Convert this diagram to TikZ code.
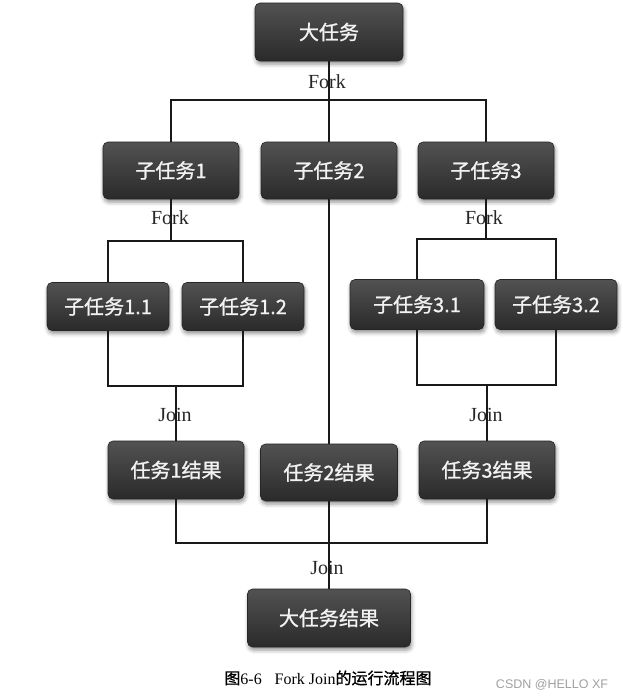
\documentclass[tikz,border=0pt]{standalone}
\usepackage{fontspec}
\setmainfont{Liberation Serif}
\newfontfamily\cjk{Noto Sans CJK SC}
\newfontfamily\cjkb[FakeBold=1.1]{Noto Sans CJK SC}
\newfontfamily\wmfont{Liberation Sans}
\usetikzlibrary{shadows.blur}
\definecolor{boxtop}{HTML}{525252}
\definecolor{boxbot}{HTML}{2A2A2A}
\definecolor{wmgray}{HTML}{A0A0A0}
\tikzset{
  box/.style={rounded corners=5pt, draw=black!85, line width=0.6pt,
    top color=boxtop, bottom color=boxbot, text=white!95!black,
    font=\cjkb\fontsize{20}{20}\selectfont, inner sep=0pt,
    blur shadow={shadow xshift=1pt, shadow yshift=-3pt, shadow blur radius=4pt, shadow opacity=45}},
  wire/.style={line width=1.4pt, black!90},
  lbl/.style={font=\fontsize{20}{20}\selectfont, inner sep=0pt, text=black!85},
}
\begin{document}
\begin{tikzpicture}[x=1pt,y=-1pt]
\useasboundingbox (0,0) rectangle (623,699);
% boxes
\node[box, minimum width=148, minimum height=58] (big) at (329,32) {大任务};
\node[box, minimum width=136, minimum height=57] (s1) at (171,170.5) {子任务1};
\node[box, minimum width=136, minimum height=57] (s2) at (329,170.5) {子任务2};
\node[box, minimum width=136, minimum height=57] (s3) at (486,170.5) {子任务3};
\node[box, minimum width=122, minimum height=48] (s11) at (108,306.5) {子任务1.1};
\node[box, minimum width=122, minimum height=48] (s12) at (243,306.5) {子任务1.2};
\node[box, minimum width=134, minimum height=50] (s31) at (417,304.5) {子任务3.1};
\node[box, minimum width=122, minimum height=50] (s32) at (556,304.5) {子任务3.2};
\node[box, minimum width=136, minimum height=58] (r1) at (176,470) {任务1结果};
\node[box, minimum width=137, minimum height=57] (r2) at (329,472.5) {任务2结果};
\node[box, minimum width=136, minimum height=58] (r3) at (487,470) {任务3结果};
\node[box, minimum width=163, minimum height=58] (fin) at (329,618) {大任务结果};
% bus points
\coordinate (f0) at (329,100);
\coordinate (f1) at (171,241);
\coordinate (f3) at (486,239);
\coordinate (j1) at (176,386);
\coordinate (j3) at (487,385);
\coordinate (j4) at (329,543);
% connectors
\draw[wire] (big) -- (s2);
\draw[wire] (s1) |- (f0) -| (s3);
\draw[wire] (s1) -- (f1);
\draw[wire] (s11) |- (f1) -| (s12);
\draw[wire] (s3) -- (f3);
\draw[wire] (s31) |- (f3) -| (s32);
\draw[wire] (s11) |- (j1) -| (s12);
\draw[wire] (j1) -- (r1);
\draw[wire] (s31) |- (j3) -| (s32);
\draw[wire] (j3) -- (r3);
\draw[wire] (s2) -- (r2);
\draw[wire] (r1) |- (j4) -| (r3);
\draw[wire] (r2) -- (fin);
% labels
\node[lbl] (lf0) at (327,82) {Fork};
\node[lbl] (lf1) at (170,218) {Fork};
\node[lbl] (lf3) at (484,218) {Fork};
\node[lbl] (lj1) at (175,415) {Join};
\node[lbl] (lj3) at (486,415) {Join};
\node[lbl] (lj4) at (327,568) {Join};
% caption
\node[font=\fontsize{16}{16}\selectfont, inner sep=0pt] (cap) at (328,678) {{\cjkb 图}6-6\hspace{0.8em}Fork Join{\cjkb 的运行流程图}};
\node[font=\wmfont\fontsize{12.5}{12.5}\selectfont, text=wmgray, inner sep=0pt] (wm) at (552,685) {CSDN @HELLO XF};
\end{tikzpicture}
\end{document}
